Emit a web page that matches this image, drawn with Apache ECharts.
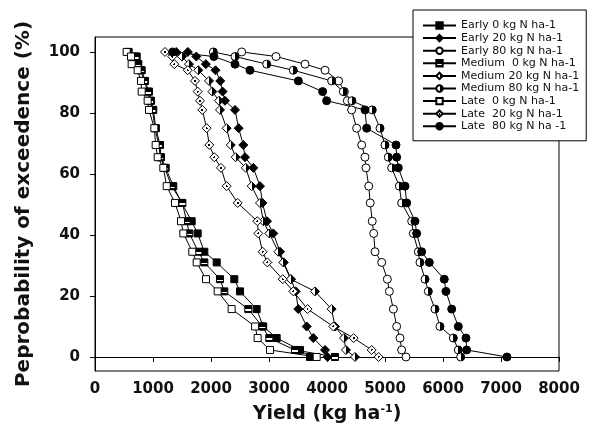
<!DOCTYPE html>
<html>
<head>
<meta charset="utf-8">
<script src="https://cdn.jsdelivr.net/npm/echarts@6/dist/echarts.min.js"></script>
<style>
  html, body { margin: 0; padding: 0; background: #fff; }
  #main { width: 590px; height: 442px; }
</style>
</head>
<body>
<div id="main"></div>
<script>
// exceedance probability levels (%) shared by all series
var levels = [100, 98.5, 96, 94, 90.5, 87, 84, 81, 75, 69.5, 65.5, 62, 56, 50.5, 44.5, 40.5, 34.5, 31, 25.5, 21.5, 15.7, 10, 6.2, 2.3, 0];

// yield (kg/ha) at each level
var early0   = [580, 719, 747, 805, 862, 931, 966, 1005, 1050, 1121, 1138, 1219, 1350, 1495, 1667, 1770, 1885, 2098, 2402, 2500, 2787, 2900, 3132, 3534, 3707];
var early20  = [1600, 1747, 1911, 2078, 2160, 2200, 2241, 2414, 2477, 2557, 2586, 2730, 2845, 2888, 2965, 3074, 3190, 3253, 3380, 3460, 3505, 3650, 3764, 3966, 4010];
var early80  = [2529, 3121, 3621, 3966, 4200, 4300, 4350, 4425, 4511, 4598, 4655, 4672, 4720, 4745, 4780, 4805, 4828, 4943, 5040, 5075, 5144, 5201, 5259, 5287, 5362];
var medium0  = [570, 700, 735, 790, 850, 915, 950, 990, 1035, 1100, 1125, 1200, 1320, 1506, 1580, 1626, 1782, 1885, 2155, 2229, 2643, 2885, 3005, 3448, 4138];
var medium20 = [1400, 1500, 1620, 1780, 1966, 2023, 2138, 2155, 2270, 2340, 2425, 2600, 2701, 2845, 2902, 3005, 3161, 3247, 3373, 3793, 4080, 4138, 4293, 4327, 4482];
var medium80 = [2040, 2414, 2960, 3419, 4080, 4281, 4430, 4780, 4914, 5000, 5057, 5115, 5247, 5287, 5460, 5488, 5574, 5603, 5690, 5747, 5862, 5948, 6178, 6264, 6305];
var late0    = [546, 621, 632, 735, 793, 805, 908, 931, 1023, 1046, 1081, 1178, 1236, 1379, 1483, 1523, 1678, 1753, 1914, 2115, 2356, 2760, 2804, 3017, 3822];
var late20   = [1207, 1333, 1368, 1598, 1724, 1770, 1810, 1850, 1925, 1971, 2057, 2172, 2270, 2460, 2799, 2816, 2890, 2971, 3236, 3419, 3665, 4109, 4460, 4770, 4890];
var late80   = [1339, 2050, 2414, 2672, 3506, 3925, 3994, 4655, 4684, 5190, 5201, 5230, 5345, 5374, 5517, 5546, 5632, 5764, 6022, 6051, 6150, 6264, 6396, 6408, 7103];

var yTicks = [0, 20, 40, 60, 80, 100];

var FONT = 'DejaVu Sans';

// fills for the half-filled symbols
var halfLR = { type: 'linear', x: 0, y: 0, x2: 1, y2: 0,
  colorStops: [{offset: 0, color: '#fff'}, {offset: 0.5, color: '#fff'}, {offset: 0.5, color: '#000'}, {offset: 1, color: '#000'}] };
var barSq = { type: 'linear', x: 0, y: 0, x2: 0, y2: 1,
  colorStops: [{offset: 0, color: '#000'}, {offset: 0.55, color: '#000'}, {offset: 0.55, color: '#fff'}, {offset: 0.75, color: '#fff'}, {offset: 0.75, color: '#000'}, {offset: 1, color: '#000'}] };
var dotDia = { type: 'radial', x: 0.5, y: 0.5, r: 0.5,
  colorStops: [{offset: 0, color: '#000'}, {offset: 0.2, color: '#000'}, {offset: 0.2, color: '#fff'}, {offset: 1, color: '#fff'}] };

function pairs(vals) {
  return vals.map(function (v, i) { return [v, levels[i]]; });
}

function mk(name, vals, symbol, size, fill) {
  return {
    name: name,
    type: 'line',
    data: pairs(vals),
    symbol: symbol,
    symbolSize: size,
    showAllSymbol: true,
    itemStyle: { color: fill, borderColor: '#000', borderWidth: 1 },
    lineStyle: { color: '#000', width: 1 },
    emphasis: { disabled: true }
  };
}

var myChart = echarts.init(document.getElementById('main'));
var option = {
  animation: false,
  textStyle: { fontFamily: FONT },
  grid: { left: 95, right: 31, top: 37, bottom: 71, show: true, borderColor: '#000', borderWidth: 1 },
  legend: {
    orient: 'vertical',
    left: 413,
    top: 10,
    padding: [10, 7, 9, 9],
    itemWidth: 33,
    itemHeight: 8,
    itemGap: 1.6,
    itemTextGap: 5,
    borderColor: '#000',
    borderWidth: 1,
    backgroundColor: '#fff',
    textStyle: { fontFamily: FONT, fontSize: 11, color: '#111' }
  },
  xAxis: {
    type: 'value',
    min: 0,
    max: 8000,
    interval: 1000,
    name: 'Yield (kg ha{sup|-1})',
    nameLocation: 'middle',
    nameGap: 33,
    nameTextStyle: {
      fontFamily: FONT, fontSize: 19, fontWeight: 'bold', color: '#111',
      rich: { sup: { fontFamily: FONT, fontSize: 11, fontWeight: 'bold', color: '#111', padding: [0, 0, 10, 0] } }
    },
    splitLine: { show: false },
    axisLine: { lineStyle: { color: '#000', width: 1 } },
    axisTick: { length: 5, lineStyle: { color: '#000' } },
    axisLabel: { fontSize: 15, fontWeight: 'bold', color: '#111', margin: 11,
      formatter: function (v) { return String(v); } }
  },
  yAxis: {
    type: 'value',
    min: -4.6,
    max: 104.9,
    name: 'Peprobability of exceedence (%)',
    nameLocation: 'middle',
    nameGap: 61,
    nameTextStyle: { fontFamily: FONT, fontSize: 20, fontWeight: 'bold', color: '#111' },
    splitLine: { show: false },
    axisLine: { show: true, lineStyle: { color: '#000', width: 1 } },
    axisTick: { show: true, length: 5, customValues: yTicks, lineStyle: { color: '#000' } },
    axisLabel: { fontSize: 15, fontWeight: 'bold', color: '#111', margin: 15, customValues: yTicks }
  },
  series: [
    mk('Early 0 kg N ha-1', early0, 'rect', 7, '#000'),
    mk('Early 20 kg N ha-1', early20, 'diamond', 9, '#000'),
    mk('Early 80 kg N ha-1', early80, 'circle', 8, '#fff'),
    mk('Medium  0 kg N ha-1', medium0, 'rect', 7, barSq),
    mk('Medium 20 kg N ha-1', medium20, 'diamond', 9, halfLR),
    mk('Medium 80 kg N ha-1', medium80, 'circle', 8, halfLR),
    mk('Late  0 kg N ha-1', late0, 'rect', 7, '#fff'),
    mk('Late  20 kg N ha-1', late20, 'diamond', 9, dotDia),
    mk('Late  80 kg N ha -1', late80, 'circle', 8, '#000')
  ]
};
myChart.setOption(option);
</script>
</body>
</html>
